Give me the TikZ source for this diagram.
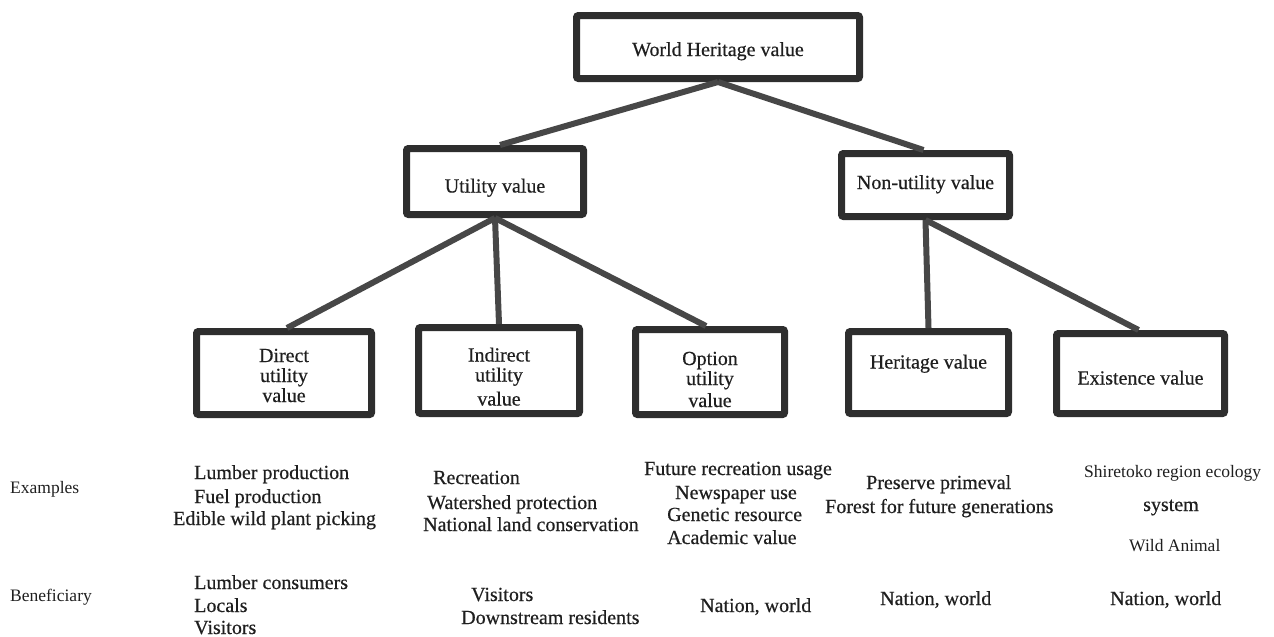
\documentclass[tikz,border=0pt]{standalone}
\usepackage{fontspec}
\setmainfont{Liberation Serif}
\newfontfamily\heavyserif{Liberation Serif}[FakeBold=0.5]
\usepackage{tikz}
\newcommand{\labelfont}{\heavyserif\fontsize{20}{20}\selectfont}
\newcommand{\rowfont}{\fontsize{17.5}{20}\selectfont}
\newcommand{\nodelines}[2]{\raisebox{#1}[\height][\depth]{\begin{tabular}{@{}c@{}}#2\end{tabular}}}
\tikzset{
  valuebox/.style={draw=black!82,line width=7pt,fill=white,rounded corners=2pt,
    inner sep=0pt,font=\labelfont,text=black!88},
  branchline/.style={draw=black!72,line width=6pt},
  itemtext/.style={anchor=west,inner sep=0pt,text height=12pt,text depth=0pt,
    font=\labelfont,text=black!88},
  rowtext/.style={itemtext,font=\rowfont}
}

\begin{document}
\begin{tikzpicture}[x=1pt,y=-1pt]
  \useasboundingbox (0,0) rectangle (1274,637);
  % value tree
  \node[valuebox,minimum width=283pt,minimum height=63pt] (world) at (718,47)
    {\nodelines{-5pt}{World Heritage value}};
  \node[valuebox,minimum width=177pt,minimum height=66pt] (utility) at (495,181.5)
    {\nodelines{-7pt}{Utility value}};
  \node[valuebox,minimum width=168pt,minimum height=63pt] (nonutility) at (925.5,185)
    {\nodelines{0pt}{Non-utility value}};
  \node[valuebox,minimum width=175pt,minimum height=83pt] (direct) at (284,373)
    {\nodelines{-5pt}{Direct\\utility\\value}};
  \node[valuebox,minimum width=161pt,minimum height=86pt] (indirect) at (499,370.5)
    {\nodelines{-9pt}{Indirect\\utility\\[4pt]value}};
  \node[valuebox,minimum width=149pt,minimum height=85pt] (option) at (710,372)
    {\nodelines{-10pt}{Option\\utility\\[2pt]value}};
  \node[valuebox,minimum width=160pt,minimum height=82pt] (heritage) at (928.5,372.5)
    {\nodelines{8pt}{Heritage value}};
  \node[valuebox,minimum width=168pt,minimum height=80pt] (existence) at (1140.5,373.5)
    {\nodelines{-7pt}{Existence value}};

  \draw[branchline] (world.south) -- ([xshift=5pt]utility.north);
  \draw[branchline] (world.south) -- ([xshift=-2pt]nonutility.north);
  \draw[branchline] (utility.south) -- ([xshift=3pt]direct.north);
  \draw[branchline] (utility.south) -- (indirect.north);
  \draw[branchline] (utility.south) -- ([xshift=-4pt]option.north);
  \draw[branchline] (nonutility.south) -- (heritage.north);
  \draw[branchline] (nonutility.south) -- ([xshift=-2pt]existence.north);

  % examples row
  \node[rowtext] (examples) at (10,487) {Examples};
  \node[itemtext] (lumber) at (194,473) {Lumber production};
  \node[itemtext] (fuel) at (194,497) {Fuel production};
  \node[itemtext] (edible) at (173,519) {Edible wild plant picking};
  \node[itemtext] (recreation) at (433,478) {Recreation};
  \node[itemtext] (watershed) at (427,503) {Watershed protection};
  \node[itemtext] (landcons) at (423,525) {National land conservation};
  \node[itemtext] (futurerec) at (644,469) {Future recreation usage};
  \node[itemtext] (newspaper) at (675,493) {Newspaper use};
  \node[itemtext] (genetic) at (667,515) {Genetic resource};
  \node[itemtext] (academic) at (667,538) {Academic value};
  \node[itemtext] (primeval) at (866,483) {Preserve primeval};
  \node[itemtext] (forest) at (825,507) {Forest for future generations};
  \node[rowtext] (shiretoko) at (1084,471) {Shiretoko region ecology};
  \node[itemtext] (system) at (1143,505) {system};
  \node[rowtext] (wildanimal) at (1129,545) {Wild Animal};

  % beneficiary row
  \node[rowtext] (beneficiary) at (10,595) {Beneficiary};
  \node[itemtext] (consumers) at (194,583) {Lumber consumers};
  \node[itemtext] (locals) at (194,606) {Locals};
  \node[itemtext] (visitorsA) at (194,628) {Visitors};
  \node[itemtext] (visitorsB) at (471,595) {Visitors};
  \node[itemtext] (downstream) at (461,618) {Downstream residents};
  \node[itemtext] (nationC) at (700,606) {Nation, world};
  \node[itemtext] (nationD) at (880,599) {Nation, world};
  \node[itemtext] (nationE) at (1110,599) {Nation, world};
\end{tikzpicture}
\end{document}
